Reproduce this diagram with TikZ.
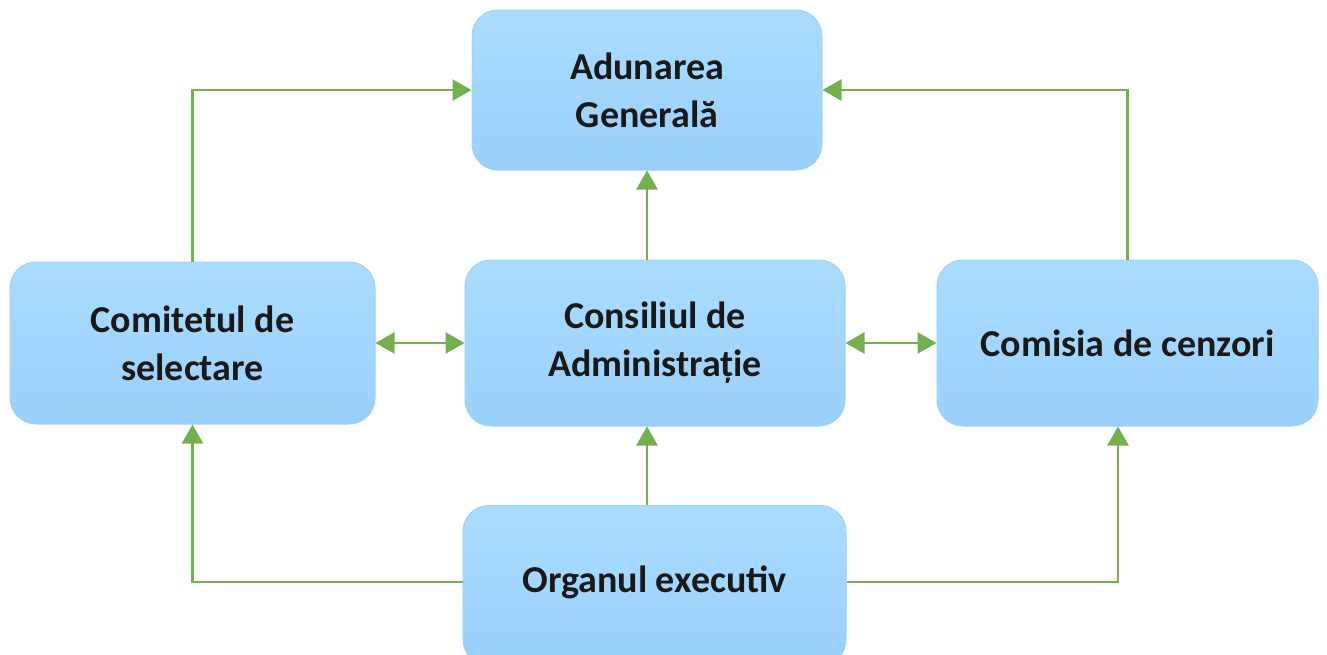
\documentclass[tikz,border=0pt]{standalone}
\usepackage{fontspec}
\setmainfont{Carlito}
\usetikzlibrary{arrows.meta}
\definecolor{boxtop}{HTML}{AADCFF}
\definecolor{boxbot}{HTML}{99D0FB}
\definecolor{boxline}{HTML}{9CD3FB}
\definecolor{arrgreen}{HTML}{74B04F}
\tikzset{
  box/.style={draw=boxline, line width=1pt, rounded corners=26pt, top color=boxtop, bottom color=boxbot,
    align=center, inner sep=0pt, font=\bfseries\fontsize{38}{48}\selectfont, text=black!90},
  arr/.style={draw=arrgreen, line width=2.4pt, -{Triangle[length=19pt,width=21pt]}},
  darr/.style={draw=arrgreen, line width=2.4pt, {Triangle[length=19pt,width=21pt]}-{Triangle[length=19pt,width=21pt]}}
}
\begin{document}
\begin{tikzpicture}[x=1pt,y=1pt]
\useasboundingbox (0,0) rectangle (1327,-654);
\clip (0,0) rectangle (1327,-654);
\node[box, minimum width=350pt, minimum height=160pt] (ag) at (647,-90) {Adunarea\\Generală};
\node[box, minimum width=365pt, minimum height=162pt] (cs) at (192.5,-343) {Comitetul de\\selectare};
\node[box, minimum width=380pt, minimum height=166pt] (ca) at (655,-343) {Consiliul de\\Administrație};
\node[box, minimum width=381pt, minimum height=166pt] (cc) at (1127.5,-343) {Comisia de cenzori};
\node[box, minimum width=383pt, minimum height=160pt, anchor=north] (oe) at (654.5,-505) {};
\node[font=\bfseries\fontsize{38}{48}\selectfont, text=black!90, inner sep=0pt] (oet) at (654.5,-582) {Organul executiv};
\draw[arr] (cs.north) |- (ag.west);
\draw[arr] (cc.north) |- (ag.east);
\draw[arr] (ag.south |- ca.north) -- (ag.south);
\draw[darr] (cs.east) -- (ca.west);
\draw[darr] (ca.east) -- (cc.west);
\draw[arr] (ag.south |- oe.north) -- (ag.south |- ca.south);
\draw[arr] (oe.west |- oet.center) -| (cs.south);
\draw[arr] (oe.east |- oet.center) -| ([xshift=-9.5pt]cc.south);
\end{tikzpicture}
\end{document}
